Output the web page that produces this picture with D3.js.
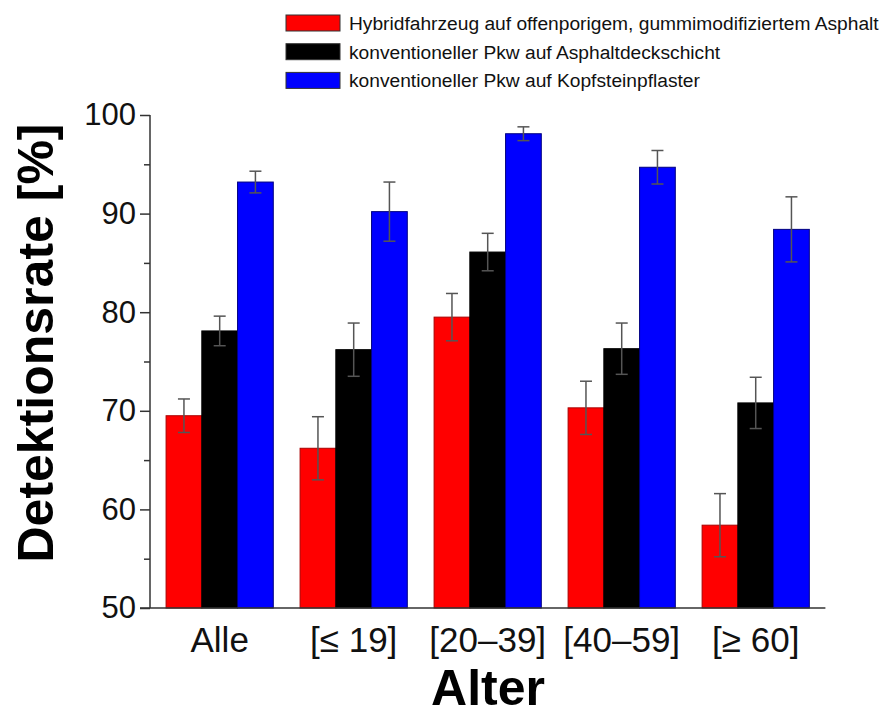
<!DOCTYPE html>
<html><head><meta charset="utf-8">
<script src="https://cdn.jsdelivr.net/npm/d3@7"></script>
<style>body{margin:0;background:#fff;} text{font-family:"Liberation Sans",Arial,sans-serif;}</style>
</head><body>
<svg id="c" width="892" height="718"></svg>
<script>
const categories = ["Alle", "[≤ 19]", "[20–39]", "[40–59]", "[≥ 60]"];
const seriesNames = ["Hybridfahrzeug auf offenporigem, gummimodifiziertem Asphalt",
  "konventioneller Pkw auf Asphaltdeckschicht",
  "konventioneller Pkw auf Kopfsteinpflaster"];
const seriesColors = ["#ff0000", "#000000", "#0000ff"];
const seriesStroke = ["#aa0000", "#000000", "#000080"];
const hybridValues = [69.5, 66.2, 79.5, 70.3, 58.4];
const hybridErrors = [1.7, 3.2, 2.4, 2.7, 3.2];
const asphaltValues = [78.1, 76.2, 86.1, 76.3, 70.8];
const asphaltErrors = [1.5, 2.7, 1.9, 2.6, 2.6];
const cobbleValues = [93.2, 90.2, 98.1, 94.7, 88.4];
const cobbleErrors = [1.1, 3.0, 0.7, 1.7, 3.3];
const yTicks = [50, 60, 70, 80, 90, 100];
const yMinorTicks = [55, 65, 75, 85, 95];

const values = [hybridValues, asphaltValues, cobbleValues];
const errors = [hybridErrors, asphaltErrors, cobbleErrors];
const svg = d3.select("#c");

const y = d3.scaleLinear().domain([50, 100]).range([608, 115]);
const x = d3.scaleBand().domain(categories).range([150, 825.4]).paddingInner(0.2).paddingOuter(0.12);
const xs = d3.scaleBand().domain([0, 1, 2]).range([0, x.bandwidth()]);

// bars
categories.forEach((c, i) => {
  [0, 1, 2].forEach(s => {
    const v = values[s][i];
    svg.append("rect")
      .attr("x", x(c) + xs(s)).attr("y", y(v))
      .attr("width", xs.bandwidth()).attr("height", y(50) - y(v))
      .attr("fill", seriesColors[s]).attr("stroke", seriesStroke[s]).attr("stroke-width", 1);
  });
});
// error bars
categories.forEach((c, i) => {
  [0, 1, 2].forEach(s => {
    const v = values[s][i], e = errors[s][i];
    const cx = x(c) + xs(s) + xs.bandwidth() / 2;
    const g = svg.append("g").attr("stroke", "#555").attr("stroke-width", 1.5);
    g.append("line").attr("x1", cx).attr("x2", cx).attr("y1", y(v + e)).attr("y2", y(v - e));
    g.append("line").attr("x1", cx - 6).attr("x2", cx + 6).attr("y1", y(v + e)).attr("y2", y(v + e));
    g.append("line").attr("x1", cx - 6).attr("x2", cx + 6).attr("y1", y(v - e)).attr("y2", y(v - e));
  });
});

// y axis
const yAxis = d3.axisLeft(y).tickValues(yTicks).tickSize(10).tickPadding(4).tickFormat(d3.format("d"));
const ya = svg.append("g").attr("transform", "translate(150,0)").call(yAxis);
ya.select(".domain").remove();
ya.selectAll("line").attr("stroke", "#333").attr("stroke-width", 1.5);
ya.selectAll("text").attr("font-size", 31).attr("fill", "#111").attr("font-family", "Liberation Sans, Arial, sans-serif");
const ym = d3.axisLeft(y).tickValues(yMinorTicks).tickSize(6).tickFormat("");
const yma = svg.append("g").attr("transform", "translate(150,0)").call(ym);
yma.select(".domain").remove();
yma.selectAll("line").attr("stroke", "#333").attr("stroke-width", 1.5);
svg.append("line").attr("x1", 150).attr("x2", 150).attr("y1", y(100)).attr("y2", y(50))
  .attr("stroke", "#333").attr("stroke-width", 1.5);

// x axis
const xAxis = d3.axisBottom(x).tickSize(0).tickPadding(19);
const xa = svg.append("g").attr("transform", "translate(0,608)").call(xAxis);
xa.select(".domain").remove();
xa.selectAll("text").attr("font-size", 35).attr("fill", "#111").attr("font-family", "Liberation Sans, Arial, sans-serif");
svg.append("line").attr("x1", 140).attr("x2", 825.4).attr("y1", 608).attr("y2", 608)
  .attr("stroke", "#333").attr("stroke-width", 1.5);

// axis titles
svg.append("text").attr("x", 488).attr("y", 705).attr("text-anchor", "middle")
  .attr("font-size", 50).attr("font-weight", "bold").attr("fill", "#000").text("Alter");
svg.append("text").attr("transform", "translate(53,343) rotate(-90)").attr("text-anchor", "middle")
  .attr("font-size", 50).attr("font-weight", "bold").attr("fill", "#000").text("Detektionsrate [%]");

// legend
seriesNames.forEach((n, s) => {
  const ly = 15 + s * 28.7;
  svg.append("rect").attr("x", 286).attr("y", ly).attr("width", 54).attr("height", 16)
    .attr("fill", seriesColors[s]).attr("stroke", "#333").attr("stroke-width", 1);
  svg.append("text").attr("x", 349).attr("y", ly + 15).attr("font-size", 19.2).attr("fill", "#111").text(n);
});
</script>
</body></html>
